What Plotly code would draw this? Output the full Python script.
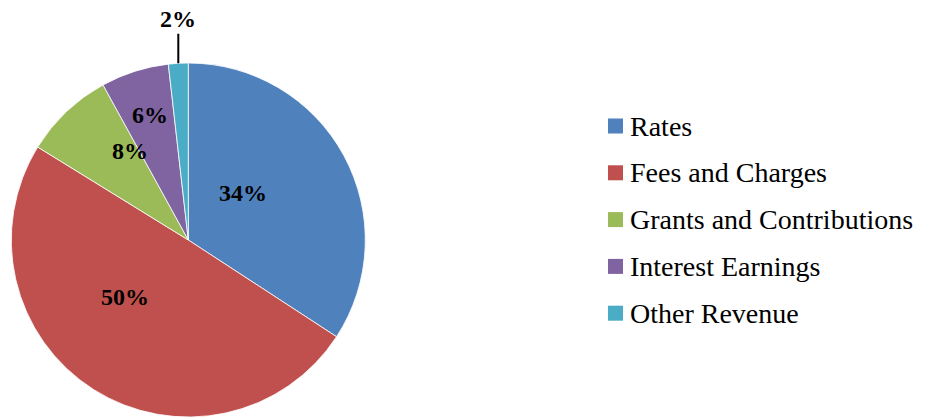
import math
import plotly.graph_objects as go

# ---- data ----
categories = ["Rates", "Fees and Charges", "Grants and Contributions", "Interest Earnings", "Other Revenue"]
values = [34.2, 49.6, 8.2, 6.2, 1.8]
colors = ["#4F81BD", "#C0504D", "#9BBB59", "#8064A2", "#4BACC6"]

# ---- layout constants (pixels of the 929x419 window) ----
W, H = 929, 419
CX, CY, R = 188.3, 240.0, 177.0
# label placement (angle clockwise from 12 o'clock in degrees, radius fraction)
label_polar = [(49.5, 0.41), (228.0, 0.48), (326.5, 0.60), (343.0, 0.74), (None, None)]

def px(x):
    return x / W

def py(y):
    return 1 - y / H

fig = go.Figure()
fig.add_trace(go.Pie(
    labels=categories,
    values=values,
    sort=False,
    direction="clockwise",
    rotation=0,
    marker=dict(colors=colors, line=dict(color="white", width=0.8)),
    textinfo="none",
    hoverinfo="label+percent",
    showlegend=False,
    domain=dict(x=[px(CX - R), px(CX + R)], y=[py(CY + R), py(CY - R)]),
))

total = sum(values)
label_font = dict(family="Liberation Serif", size=24, color="black")
cum = 0.0
for i, v in enumerate(values):
    frac = v / total
    pct = f"<b>{round(frac * 100):.0f}%</b>"
    mid = (cum + frac / 2) * 360.0
    ang, rf = label_polar[i]
    if ang is None:
        # outside label with leader line
        ex = CX + R * math.sin(math.radians(mid))
        ey = CY - R * math.cos(math.radians(mid))
        fig.add_annotation(x=px(ex), y=py(ey), xref="paper", yref="paper",
                           text=pct, showarrow=True, arrowhead=0, arrowwidth=2,
                           arrowcolor="black", ax=0, ay=-44, standoff=0,
                           font=label_font)
    else:
        lx = CX + rf * R * math.sin(math.radians(ang))
        ly = CY - rf * R * math.cos(math.radians(ang))
        fig.add_annotation(x=px(lx), y=py(ly), xref="paper", yref="paper",
                           text=pct, showarrow=False, xanchor="center", yanchor="middle",
                           font=label_font)
    cum += frac

# ---- custom legend ----
LEG_X0, LEG_Y0, LEG_DY, SQ = 608, 126, 46.8, 15
legend_font = dict(family="Liberation Serif", size=28, color="black")
for i, (name, col) in enumerate(zip(categories, colors)):
    yc = LEG_Y0 + i * LEG_DY
    fig.add_shape(type="rect", xref="paper", yref="paper",
                  x0=px(LEG_X0), x1=px(LEG_X0 + SQ), y0=py(yc + SQ / 2), y1=py(yc - SQ / 2),
                  fillcolor=col, line=dict(width=0))
    fig.add_annotation(x=px(LEG_X0 + SQ + 5), y=py(yc), xref="paper", yref="paper",
                       text=name, showarrow=False, xanchor="left", yanchor="middle",
                       font=legend_font)

fig.update_layout(
    width=W, height=H,
    margin=dict(l=0, r=0, t=0, b=0),
    paper_bgcolor="white",
    plot_bgcolor="white",
    showlegend=False,
)

fig.write_html(
    "out.html",
    config={"displayModeBar": False},
    post_script="document.body.style.margin='0';document.body.style.overflow='hidden';",
)
